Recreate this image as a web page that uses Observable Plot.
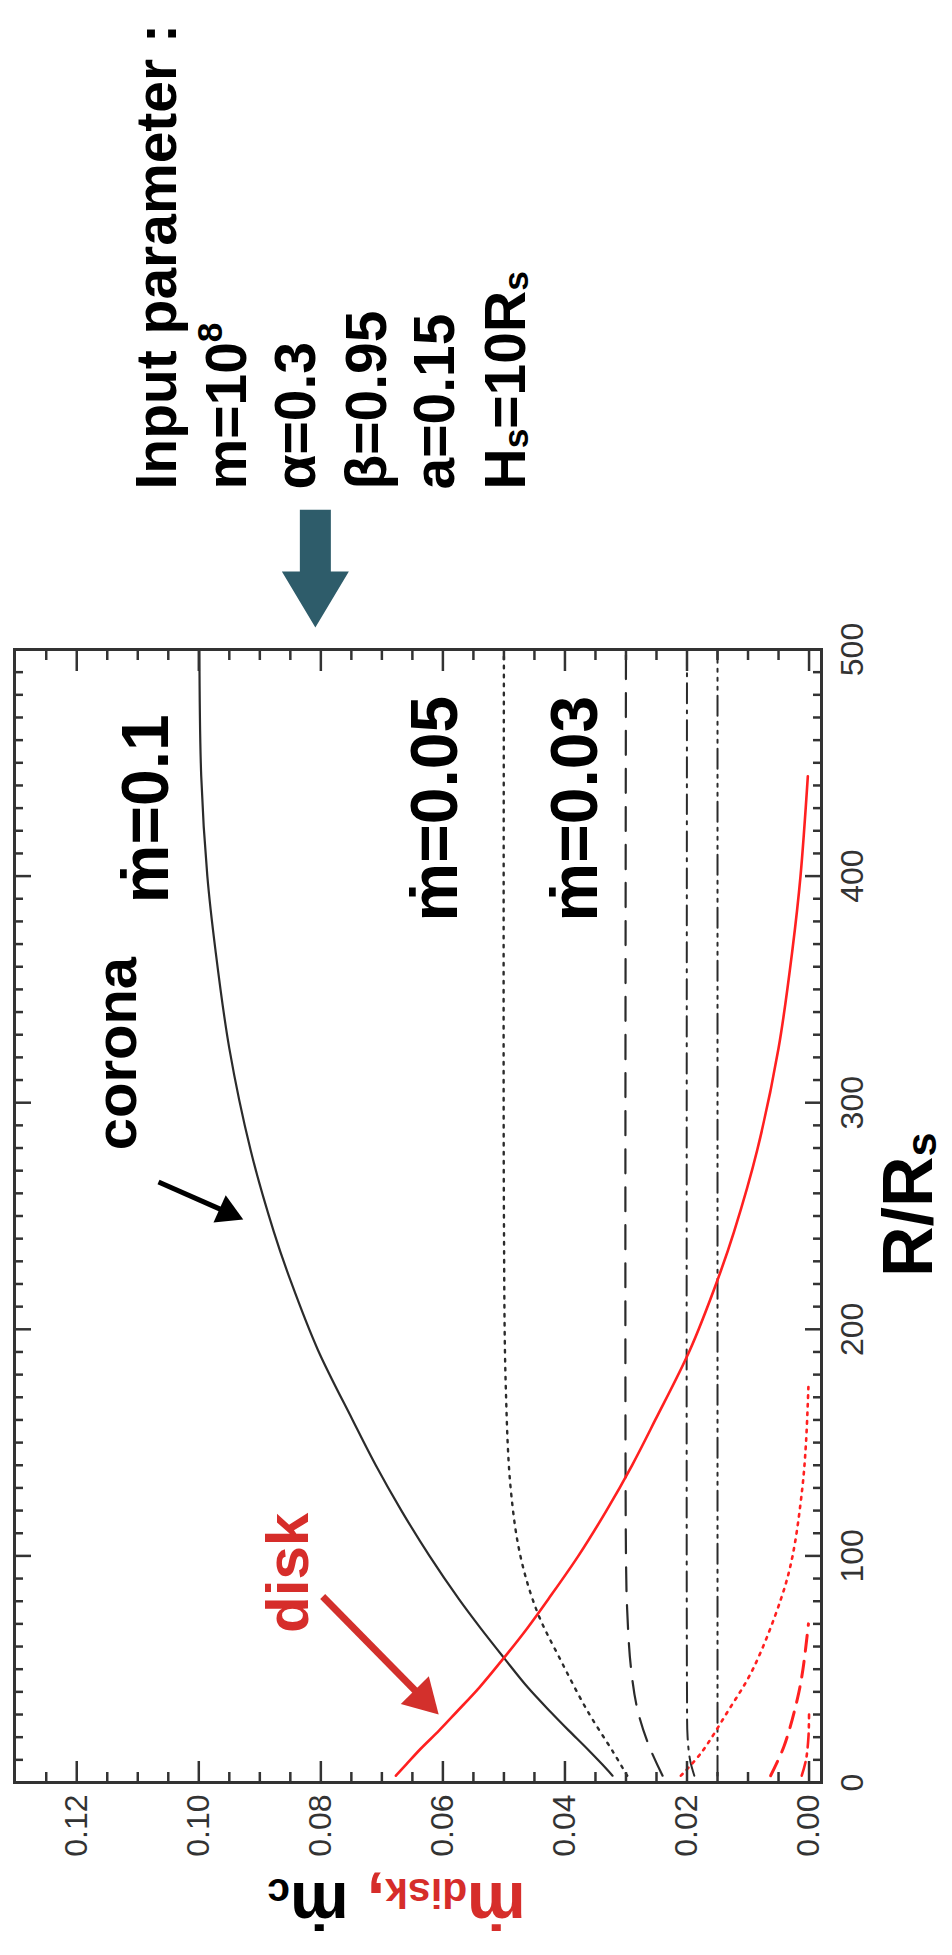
<!DOCTYPE html>
<html><head><meta charset="utf-8">
<script src="https://cdn.jsdelivr.net/npm/d3@7"></script>
<script src="https://cdn.jsdelivr.net/npm/@observablehq/plot@0.6"></script>
<style>
html,body{margin:0;padding:0;background:#fff;overflow:hidden;width:952px;height:1955px;}
#chart{position:absolute;left:0;top:0;width:1955px;height:952px;transform-origin:0 0;transform:translate(0px,1955px) rotate(-90deg);}
</style></head>
<body><div id="chart"></div>
<script>
// ---------- data (R/Rs, mdot) ----------
// corona, mdot = 0.1 (black solid)
const R_c100 = [3, 8, 15, 23, 31, 42, 55, 68, 81, 100, 120, 140, 160, 191, 221, 243, 279, 324, 368, 400, 444, 500];
const M_c100 = [0.0322, 0.0339, 0.0364, 0.0394, 0.0423, 0.0461, 0.0500, 0.0538, 0.0574, 0.0622, 0.0668, 0.0710, 0.0748, 0.0805, 0.0849, 0.0877, 0.0915, 0.0950, 0.0973, 0.0986, 0.0996, 0.0999];
// disk, mdot = 0.1 (red solid)
const R_d100 = [3, 8, 15, 23, 31, 42, 55, 68, 81, 100, 120, 140, 160, 191, 221, 243, 279, 324, 368, 400, 444];
const M_d100 = [0.0677, 0.0660, 0.0636, 0.0606, 0.0578, 0.0540, 0.0500, 0.0462, 0.0427, 0.0378, 0.0332, 0.0290, 0.0252, 0.0195, 0.0151, 0.0123, 0.0085, 0.0050, 0.0027, 0.0014, 0.0002];
// corona, mdot = 0.05 (black dotted)
const R_c050 = [3, 13, 32, 54, 75, 100, 130, 175, 250, 500];
const M_c050 = [0.0298, 0.0320, 0.0364, 0.0407, 0.0445, 0.0473, 0.0489, 0.0497, 0.0500, 0.0500];
// disk, mdot = 0.05 (red dotted)
const R_d050 = [3, 13, 31, 50, 81, 100, 130, 150, 175];
const M_d050 = [0.0210, 0.0177, 0.0134, 0.0092, 0.0046, 0.0027, 0.0011, 0.0005, 0.0001];
// corona, mdot = 0.03 (black dashed)
const R_c030 = [3, 16, 32, 51, 76, 100, 500];
const M_c030 = [0.0240, 0.0262, 0.0281, 0.0292, 0.0298, 0.0300, 0.0300];
// disk, mdot = 0.03 (red dashed)
const R_d030 = [3, 16, 37, 50, 70];
const M_d030 = [0.0063, 0.0041, 0.0019, 0.0010, 0.0001];
// corona, mdot = 0.02 (black dash-dot)
const R_c020 = [3, 10, 20, 40, 500];
const M_c020 = [0.0188, 0.0195, 0.0199, 0.0200, 0.0200];
// disk, mdot = 0.02 (red dash-dot)
const R_d020 = [3, 10, 20, 30];
const M_d020 = [0.0012, 0.0005, 0.0001, 0.0000];
// corona, mdot = 0.015 (black dash-dot-dot-dot)
const R_c015 = [3, 500];
const M_c015 = [0.0150, 0.0150];

// tick values
const xMajor = [0, 100, 200, 300, 400, 500];
const xMinor = d3.range(0, 51).map(i => i * 10).filter(v => v % 100 !== 0);
const yMajor = [0, 0.02, 0.04, 0.06, 0.08, 0.10, 0.12];
const yMinor = d3.range(0, 26).filter(i => i % 4 !== 0).map(i => i * 0.005);

// annotation texts and anchors (data units)
const curveLabels = ["ṁ=0.1", "ṁ=0.05", "ṁ=0.03"];
const curveLabelR = [388, 380, 380];
const curveLabelM = [0.105, 0.0577, 0.0348];
const paramLines = ["Input parameter :", "m=10^{8}", "α=0.3", "β=0.95", "a=0.15", "H_{s}=10R_{s}"];
const paramM = [0.1038, 0.0923, 0.0809, 0.0694, 0.0581, 0.0466];
const paramR = 570.6;
const coronaText = "corona", coronaR = 279, coronaM = 0.1103;
const diskText = "disk", diskR = 66, diskM = 0.0821;
// small arrows: tail -> head centre
const arrowTailR = [265, 82.1], arrowTailM = [0.1066, 0.0797];
const arrowHeadR = [251.6, 37.2], arrowHeadM = [0.0953, 0.0633];
// big input arrow outline
const bigArrowR = [509.7, 534.4, 534.4, 561.7, 561.7, 534.4, 534.4, 509.7];
const bigArrowM = [0.0809, 0.08639, 0.08344, 0.08344, 0.07836, 0.07836, 0.07541, 0.0809];

// ---------- styles ----------
const INK = "#2b2b2b", RED = "#ff2020", RED_TXT = "#d62d2a", TEAL = "#2e5c6a";
const series = [
  {R: R_c015, M: M_c015, stroke: INK, w: 2, dash: "20,6,3,6,3,6,3,6"},
  {R: R_c020, M: M_c020, stroke: INK, w: 2, dash: "20,7,3,7"},
  {R: R_c030, M: M_c030, stroke: INK, w: 2.2, dash: "24,14"},
  {R: R_c050, M: M_c050, stroke: INK, w: 2.4, dash: "2.5,6.5"},
  {R: R_c100, M: M_c100, stroke: INK, w: 2.2, dash: null},
  {R: R_d020, M: M_d020, stroke: RED, w: 2.6, dash: "14,6,3,6"},
  {R: R_d030, M: M_d030, stroke: RED, w: 3, dash: "16,10"},
  {R: R_d050, M: M_d050, stroke: RED, w: 2.6, dash: "2.5,6"},
  {R: R_d100, M: M_d100, stroke: RED, w: 2.6, dash: null}
];
const rows = (R, M) => R.map((r, i) => ({R: r, M: M[i]}));

const FONT = "'Liberation Sans', Arial, Helvetica, 'DejaVu Sans', sans-serif";

const plot = Plot.plot({
  width: 1955, height: 952,
  marginLeft: 172, marginRight: 650, marginTop: 14, marginBottom: 131,
  x: {domain: [0, 500]},
  y: {domain: [-0.00204, 0.1302]},
  style: {fontFamily: FONT, fontSize: "32px", background: "#fff", color: INK},
  marks: [
    ...series.map(s => Plot.line(rows(s.R, s.M), {x: "R", y: "M", stroke: s.stroke, strokeWidth: s.w, strokeDasharray: s.dash, curve: "catmull-rom"})),
    Plot.frame({stroke: "#333", strokeWidth: 3}),
    // inward ticks, R axis (bottom & top)
    Plot.axisX(xMajor, {anchor: "bottom", tickSize: 16, dy: -16, fill: "none", stroke: "#333", strokeWidth: 2.5}),
    Plot.axisX(xMinor, {anchor: "bottom", tickSize: 8, dy: -8, fill: "none", stroke: "#333", strokeWidth: 2.5}),
    Plot.axisX(xMajor, {anchor: "top", tickSize: 16, dy: 16, fill: "none", stroke: "#333", strokeWidth: 2.5}),
    Plot.axisX(xMinor, {anchor: "top", tickSize: 8, dy: 8, fill: "none", stroke: "#333", strokeWidth: 2.5}),
    // inward ticks, mdot axis (left & right)
    Plot.axisY(yMajor, {anchor: "left", tickSize: 22, dx: 22, fill: "none", stroke: "#333", strokeWidth: 2.5}),
    Plot.axisY(yMinor, {anchor: "left", tickSize: 11, dx: 11, fill: "none", stroke: "#333", strokeWidth: 2.5}),
    Plot.axisY(yMajor, {anchor: "right", tickSize: 22, dx: -22, fill: "none", stroke: "#333", strokeWidth: 2.5}),
    Plot.axisY(yMinor, {anchor: "right", tickSize: 11, dx: -11, fill: "none", stroke: "#333", strokeWidth: 2.5}),
    // tick labels
    Plot.axisX(xMajor, {anchor: "bottom", tickSize: 0, tickPadding: 19, label: null, fontSize: 32, fill: "#333", tickFormat: d => String(d)}),
    Plot.axisY(yMajor, {anchor: "left", tickSize: 0, tickPadding: 12, label: null, fontSize: 32, fill: "#333", tickFormat: d3.format(".2f")}),
    // axis titles
    Plot.text(["R/R_{s}"], {x: 255, frameAnchor: "bottom", dy: 110, lineAnchor: "bottom", textAnchor: "middle", fontSize: 70, fontWeight: "bold", fill: "#000"}),
    Plot.text(["§ṁ_{disk},§ ṁ_{c}"], {frameAnchor: "left", y: 0.0676, dx: -100, rotate: -90, lineAnchor: "bottom", textAnchor: "middle", fontSize: 66, fontWeight: "bold", fill: "#000"}),
    // curve labels
    Plot.text(curveLabels, {x: (d, i) => curveLabelR[i], y: (d, i) => curveLabelM[i], text: d => d, textAnchor: "start", lineAnchor: "bottom", fontSize: 66, fontWeight: "bold", fill: "#000"}),
    Plot.text([coronaText], {x: coronaR, y: coronaM, textAnchor: "start", lineAnchor: "bottom", fontSize: 58, fontWeight: "bold", fill: "#000"}),
    Plot.text([diskText], {x: diskR, y: diskM, textAnchor: "start", lineAnchor: "bottom", fontSize: 60, fontWeight: "bold", fill: RED_TXT}),
    // small arrows
    Plot.link([0], {x1: arrowTailR[0], y1: arrowTailM[0], x2: arrowHeadR[0], y2: arrowHeadM[0], stroke: "#000", strokeWidth: 5}),
    Plot.dot([0], {x: arrowHeadR[0], y: arrowHeadM[0], symbol: "triangle", r: 11.1, rotate: -155.9, fill: "#000", stroke: "none"}),
    Plot.link([0], {x1: arrowTailR[1], y1: arrowTailM[1], x2: arrowHeadR[1], y2: arrowHeadM[1], stroke: "#d3302c", strokeWidth: 7}),
    Plot.dot([0], {x: arrowHeadR[1], y: arrowHeadM[1], symbol: "triangle", r: 14.6, rotate: -134.5, fill: "#d3302c", stroke: "none"}),
    // input parameter block and big arrow
    Plot.line(rows(bigArrowR, bigArrowM), {x: "R", y: "M", fill: TEAL, stroke: "none"}),
    Plot.text(paramLines, {x: paramR, y: (d, i) => paramM[i], text: d => d, textAnchor: "start", lineAnchor: "bottom", fontSize: 57, fontWeight: "bold", fill: "#000"})
  ]
});

document.getElementById("chart").appendChild(plot);

// rich text: _{sub}, ^{sup}, § toggles red
const NS = "http://www.w3.org/2000/svg";
plot.querySelectorAll("text").forEach(el => {
  if (el.querySelector("tspan")) return;
  const s = el.textContent;
  if (!/[_^§]/.test(s)) return;
  const size = parseFloat(getComputedStyle(el).fontSize);
  const parts = s.split(/(_\{[^}]*\}|\^\{[^}]*\}|§)/).filter(p => p !== "");
  el.textContent = "";
  let shift = 0, red = false;
  for (const p of parts) {
    if (p === "§") { red = !red; continue; }
    let mode = "n", txt = p;
    if (p.startsWith("_{")) { mode = "sub"; txt = p.slice(2, -1); }
    else if (p.startsWith("^{")) { mode = "sup"; txt = p.slice(2, -1); }
    const target = mode === "sub" ? 0.06 * size : mode === "sup" ? -0.42 * size : 0;
    const ts = document.createElementNS(NS, "tspan");
    ts.setAttribute("dy", (target - shift).toFixed(2));
    shift = target;
    if (mode !== "n") ts.setAttribute("font-size", (0.62 * size).toFixed(1));
    if (red) ts.setAttribute("fill", RED_TXT);
    ts.textContent = txt;
    el.appendChild(ts);
  }
});
</script>
</body></html>
